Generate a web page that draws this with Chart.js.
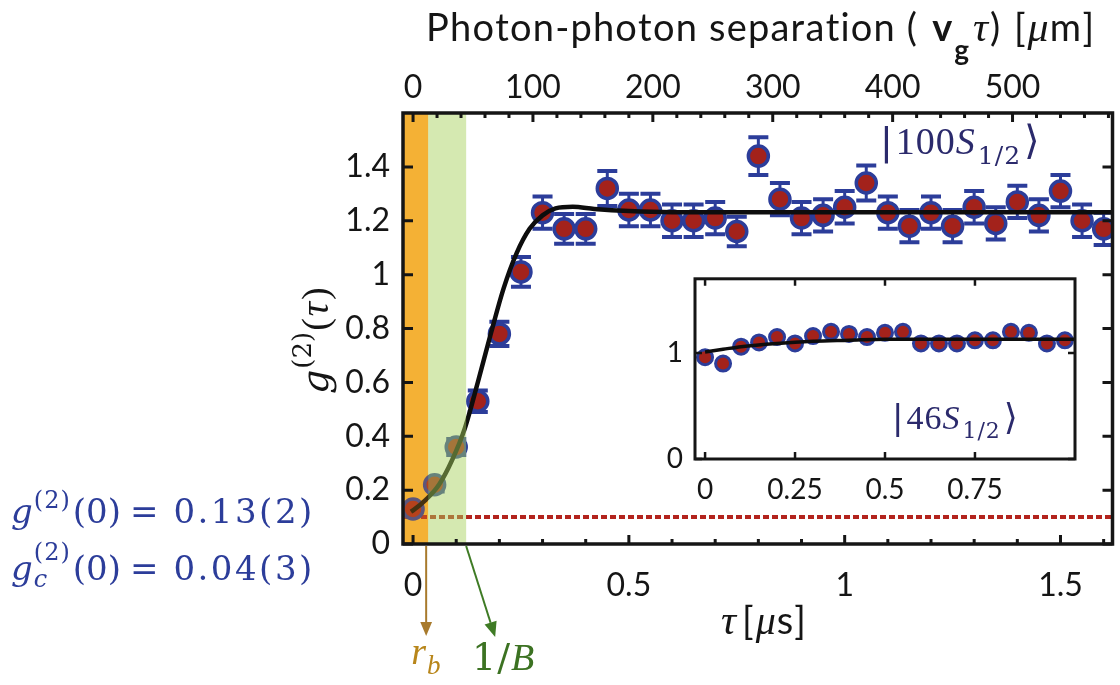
<!DOCTYPE html>
<html lang="en">
<head>
<meta charset="UTF-8">
<title>g2(tau) – photon correlation</title>
<script src="https://cdn.jsdelivr.net/npm/chart.js"></script>
<style>
  html, body { margin: 0; padding: 0; background: #fff; }
  #wrap { position: relative; width: 1120px; height: 685px; overflow: hidden; }
  #main { position: absolute; left: 0; top: 0; }
  #inset { position: absolute; left: 620px; top: 250px; }
</style>
</head>
<body>
<div id="wrap">
  <canvas id="main" width="1126" height="685"></canvas>
  <canvas id="inset" width="470" height="270"></canvas>
</div>

<script>
// ---- main panel, |100S1/2> ----
const tauMain = [0.00, 0.05, 0.10, 0.15, 0.20, 0.25, 0.30, 0.35, 0.40, 0.45, 0.50,
                 0.55, 0.60, 0.65, 0.70, 0.75, 0.80, 0.85, 0.90, 0.95, 1.00, 1.05,
                 1.10, 1.15, 1.20, 1.25, 1.30, 1.35, 1.40, 1.45, 1.50, 1.55, 1.60];
const g2Main = [0.13, 0.22, 0.36, 0.53, 0.78, 1.01, 1.23, 1.17, 1.17, 1.32, 1.24,
                1.24, 1.20, 1.20, 1.21, 1.16, 1.44, 1.28, 1.21, 1.22, 1.25, 1.34,
                1.23, 1.18, 1.23, 1.18, 1.25, 1.19, 1.27, 1.22, 1.31, 1.20, 1.17];
const errMain = [0.02, 0.025, 0.03, 0.04, 0.045, 0.055, 0.06, 0.055, 0.055, 0.065, 0.06,
                 0.06, 0.06, 0.06, 0.06, 0.055, 0.07, 0.06, 0.06, 0.06, 0.06, 0.065,
                 0.06, 0.06, 0.06, 0.06, 0.06, 0.06, 0.06, 0.06, 0.06, 0.06, 0.06];
const fitTauMain = [-0.005, 0.00, 0.03, 0.06, 0.09, 0.12, 0.15, 0.18, 0.21, 0.24, 0.27,
                    0.30, 0.33, 0.37, 0.42, 0.50, 0.60, 0.80, 1.00, 1.30, 1.63];
const fitGMain = [0.12, 0.125, 0.165, 0.22, 0.31, 0.43, 0.60, 0.78, 0.95, 1.08, 1.17,
                  1.22, 1.246, 1.252, 1.244, 1.236, 1.232, 1.232, 1.232, 1.232, 1.232];
const classicalLevel = 0.1;

const xMinMain = -0.0233, xMaxMain = 1.6205;
const xTicksMain = [0, 0.1, 0.2, 0.3, 0.4, 0.5, 0.6, 0.7, 0.8, 0.9, 1, 1.1, 1.2, 1.3, 1.4, 1.5, 1.6];
const xLabelsMain = [0, 0.5, 1, 1.5];
const yTicksMain = [0, 0.2, 0.4, 0.6, 0.8, 1, 1.2, 1.4];
const vgUm = 360; // group velocity, um per us
const sepTicks = [0, 20, 40, 60, 80, 100, 120, 140, 160, 180, 200, 220, 240, 260, 280, 300,
                  320, 340, 360, 380, 400, 420, 440, 460, 480, 500, 520, 540, 560, 580];
const sepLabels = [0, 100, 200, 300, 400, 500];

// blockade radius and inverse bandwidth regions (us)
const rbTau = 0.035;
const invBTau = 0.123;

// ---- inset, |46S1/2> ----
const tauInset = [0.00, 0.05, 0.10, 0.15, 0.20, 0.25, 0.30, 0.35, 0.40, 0.45, 0.50,
                  0.55, 0.60, 0.65, 0.70, 0.75, 0.80, 0.85, 0.90, 0.95, 1.00];
const g2Inset = [0.96, 0.90, 1.06, 1.10, 1.15, 1.09, 1.16, 1.20, 1.18, 1.15, 1.19,
                 1.20, 1.09, 1.09, 1.09, 1.12, 1.12, 1.20, 1.19, 1.09, 1.12];
const fitTauInset = [0, 0.05, 0.10, 0.20, 0.30, 0.40, 0.50, 0.70, 1.03];
const fitGInset = [1.01, 1.035, 1.06, 1.09, 1.11, 1.12, 1.13, 1.13, 1.13];
const xTicksInset = [0, 0.25, 0.5, 0.75];
const yTicksInset = [0, 1];

const SANS = "Lato, 'Open Sans', sans-serif";
const SERIF = "'Liberation Serif', 'DejaVu Serif', serif";
const MATH = "'DejaVu Serif', serif";
const KET = "'DejaVu Sans', serif";
const RED = '#a3221b', BLUE = '#2c3d9a', NAVY = '#2b2a6c', INK = '#151515';

Chart.defaults.font.family = SANS;

const pts = (xs, ys) => xs.map((x, i) => ({ x, y: ys[i] }));
const fmt = v => String(+v.toFixed(2));

// draw text pieces one glyph at a time (lets math-like labels get some spacing)
function textRuns(ctx, x, y, runs) {
  let cx = x, prevStart = x, prevEnd = x;
  runs.forEach(r => {
    const start = r.stack ? prevStart : cx;
    let px = start;
    ctx.font = r.f;
    if (r.c) ctx.fillStyle = r.c;
    for (const ch of r.t) {
      ctx.fillText(ch, px, y + (r.dy || 0));
      px += ctx.measureText(ch).width + (r.ls || 0);
    }
    const end = r.stack ? Math.max(px, prevEnd) : px;
    prevStart = start; prevEnd = end;
    cx = end + (r.gap || 0);
  });
  return cx;
}

function arrow(ctx, x0, y0, x1, y1, color, w, head) {
  const a = Math.atan2(y1 - y0, x1 - x0), c = Math.cos(a), s = Math.sin(a);
  ctx.strokeStyle = color; ctx.fillStyle = color; ctx.lineWidth = w;
  ctx.beginPath(); ctx.moveTo(x0, y0); ctx.lineTo(x1 - head * c, y1 - head * s); ctx.stroke();
  ctx.beginPath();
  ctx.moveTo(x1, y1);
  ctx.lineTo(x1 - head * c + head * 0.42 * s, y1 - head * s - head * 0.42 * c);
  ctx.lineTo(x1 - head * c - head * 0.42 * s, y1 - head * s + head * 0.42 * c);
  ctx.closePath(); ctx.fill();
}

// error bars under the markers
function errorBars(dsIndex, errs, capHalf, w) {
  return {
    id: 'errbars' + dsIndex,
    beforeDatasetsDraw(chart) {
      const { ctx } = chart, xs = chart.scales.x, ys = chart.scales.y;
      const data = chart.data.datasets[dsIndex].data;
      ctx.save();
      ctx.strokeStyle = BLUE;
      data.forEach((p, i) => {
        const x = xs.getPixelForValue(p.x);
        const y0 = ys.getPixelForValue(p.y + errs[i]);
        const y1 = ys.getPixelForValue(p.y - errs[i]);
        ctx.lineWidth = w;
        ctx.beginPath(); ctx.moveTo(x, y0); ctx.lineTo(x, y1); ctx.stroke();
        ctx.lineWidth = w + 1;
        ctx.beginPath();
        ctx.moveTo(x - capHalf, y0); ctx.lineTo(x + capHalf, y0);
        ctx.moveTo(x - capHalf, y1); ctx.lineTo(x + capHalf, y1);
        ctx.stroke();
      });
      ctx.restore();
    }
  };
}

// shaded tau ranges; "over" ones are laid translucently on top of the data
function fillBands(chart, bands, over) {
  const { ctx, chartArea: a } = chart, xs = chart.scales.x;
  bands.filter(b => !!b.over === over).forEach(b => {
    const x0 = b.from === null ? a.left : xs.getPixelForValue(b.from);
    const x1 = xs.getPixelForValue(b.to);
    ctx.fillStyle = b.color;
    ctx.fillRect(x0, a.top, x1 - x0, a.bottom - a.top);
  });
}

// box frame with inward ticks
function frame(cfg) {
  const bands = cfg.bands || [];
  return {
    id: 'frame',
    beforeDatasetsDraw(chart) {
      const { ctx, chartArea: a } = chart;
      ctx.save();
      if (cfg.fill) {
        ctx.fillStyle = cfg.fill;
        ctx.fillRect(a.left, a.top, a.right - a.left, a.bottom - a.top);
      }
      fillBands(chart, bands, false);
      ctx.restore();
    },
    afterDatasetsDraw(chart) {
      const { ctx, chartArea: a } = chart;
      ctx.save();
      fillBands(chart, bands, true);
      ctx.strokeStyle = INK;
      ctx.lineWidth = cfg.tickWidth;
      ctx.beginPath();
      cfg.ticks.forEach(t => {
        const s = chart.scales[t.scale];
        s.ticks.forEach(tk => {
          const v = tk.value, q = v / t.majorEvery;
          const len = Math.abs(q - Math.round(q)) < 1e-6 ? t.major : t.minor;
          t.edges.forEach(e => {
            if (e === 'top' || e === 'bottom') {
              const x = s.getPixelForValue(v), y = e === 'top' ? a.top : a.bottom;
              ctx.moveTo(x, y); ctx.lineTo(x, e === 'top' ? y + len : y - len);
            } else {
              const y = s.getPixelForValue(v), x = e === 'left' ? a.left : a.right;
              ctx.moveTo(x, y); ctx.lineTo(e === 'left' ? x + len : x - len, y);
            }
          });
        });
      });
      ctx.stroke();
      ctx.lineWidth = cfg.width;
      ctx.strokeRect(a.left, a.top, a.right - a.left, a.bottom - a.top);
      ctx.restore();
    }
  };
}

// labels, arrows and axis titles of the main panel
const mainText = {
  id: 'mainText',
  afterDraw(chart) {
    const { ctx, chartArea: a } = chart, xs = chart.scales.x;
    ctx.save();
    ctx.textBaseline = 'alphabetic';

    // top title
    ctx.fillStyle = INK;
    textRuns(ctx, 426, 41, [
      { t: 'Photon-photon separation (', f: `38px ${SANS}`, ls: 1.2, gap: 14 },
      { t: 'v', f: `bold 38px ${SANS}`, gap: 2 },
      { t: 'g', f: `bold 28px ${SANS}`, dy: 19, gap: 4 },
      { t: 'τ', f: `italic 42px ${SERIF}`, gap: 2 },
      { t: ') [', f: `38px ${SANS}`, ls: 2 },
      { t: 'μ', f: `italic 42px ${SERIF}`, gap: 1 },
      { t: 'm]', f: `38px ${SANS}`, ls: 1.5 }
    ]);

    // bottom title
    textRuns(ctx, 721, 634, [
      { t: 'τ', f: `italic 42px ${SERIF}`, gap: 6 },
      { t: '[', f: `38px ${SANS}`, gap: 2 },
      { t: 'μ', f: `italic 40px ${SERIF}`, gap: 1 },
      { t: 's]', f: `38px ${SANS}`, ls: 1 }
    ]);

    // y title, rotated
    ctx.save();
    ctx.translate(328, 394);
    ctx.rotate(-Math.PI / 2);
    textRuns(ctx, 0, 0, [
      { t: 'g', f: `italic 38px ${MATH}`, gap: 1 },
      { t: '(2)', f: `26px ${MATH}`, dy: -17, gap: 1 },
      { t: '(', f: `38px ${SERIF}`, gap: 2 },
      { t: 'τ', f: `italic 40px ${SERIF}`, gap: 2 },
      { t: ')', f: `38px ${SERIF}` }
    ]);
    ctx.restore();

    // g2(0) values on the left
    ctx.fillStyle = BLUE;
    textRuns(ctx, 11, 523, [
      { t: 'g', f: `italic 34px ${MATH}`, gap: 1 },
      { t: '(2)', f: `24px ${MATH}`, dy: -15, ls: 1, gap: 2 },
      { t: '(0)', f: `34px ${MATH}`, gap: 9 },
      { t: '=', f: `34px ${MATH}`, gap: 15 },
      { t: '0.13(2)', f: `34px ${MATH}`, ls: 2.5 }
    ]);
    textRuns(ctx, 11, 580, [
      { t: 'g', f: `italic 34px ${MATH}`, gap: 1 },
      { t: '(2)', f: `24px ${MATH}`, dy: -20, ls: 1 },
      { t: 'c', f: `italic 24px ${MATH}`, dy: 7, stack: true, gap: 2 },
      { t: '(0)', f: `34px ${MATH}`, gap: 9 },
      { t: '=', f: `34px ${MATH}`, gap: 15 },
      { t: '0.04(3)', f: `34px ${MATH}`, ls: 2.5 }
    ]);

    // state label
    ctx.fillStyle = NAVY;
    textRuns(ctx, 880, 154, [
      { t: '|', f: `38px ${KET}`, gap: 3 },
      { t: '100', f: `38px ${SERIF}`, ls: 1 },
      { t: 'S', f: `italic 38px ${SERIF}`, gap: 3 },
      { t: '1/2', f: `25px ${MATH}`, dy: 10, ls: 1, gap: 3 },
      { t: '⟩', f: `40px ${KET}` }
    ]);

    // r_b and 1/B markers below the axis
    const xr = xs.getPixelForValue(rbTau) - 2;
    const xb = xs.getPixelForValue(invBTau);
    arrow(ctx, xr, a.bottom + 2, xr, a.bottom + 92, '#a87a2c', 2, 14);
    arrow(ctx, xb, a.bottom + 2, xb + 29, a.bottom + 93, '#3f7b25', 2, 15);
    textRuns(ctx, xr - 15, 664, [
      { t: 'r', f: `italic 38px ${SERIF}`, c: '#b8861a', gap: 1 },
      { t: 'b', f: `italic 27px ${SERIF}`, dy: 10 }
    ]);
    textRuns(ctx, 472, 670, [
      { t: '1', f: `38px ${MATH}`, c: '#3c7222', gap: 1 },
      { t: '/', f: `38px ${MATH}`, gap: 1 },
      { t: 'B', f: `italic 38px ${SERIF}` }
    ]);
    ctx.restore();
  }
};

new Chart(document.getElementById('main'), {
  type: 'line',
  data: {
    datasets: [
      { data: pts(fitTauMain, fitGMain), borderColor: '#0d0d0d', borderWidth: 4.5,
        pointRadius: 0, cubicInterpolationMode: 'monotone', order: 0 },
      { data: pts(tauMain, g2Main), showLine: false, pointRadius: 10, borderWidth: 3.5,
        pointBackgroundColor: RED, pointBorderColor: BLUE, order: 1 },
      { data: [{ x: xMinMain, y: classicalLevel }, { x: xMaxMain, y: classicalLevel }],
        borderColor: '#b3241d', borderWidth: 4, borderDash: [6, 3], pointRadius: 0, order: 2 }
    ]
  },
  options: {
    responsive: false, animation: false,
    layout: { padding: { left: 0, right: 3, top: 0, bottom: 0 } },
    plugins: { legend: { display: false }, tooltip: { enabled: false } },
    scales: {
      x: {
        type: 'linear', position: 'bottom', min: xMinMain, max: xMaxMain,
        afterBuildTicks: s => { s.ticks = xTicksMain.map(v => ({ value: v })); },
        afterFit: s => { s.height = 141; },
        grid: { display: false, drawTicks: false }, border: { display: false },
        ticks: { autoSkip: false, maxRotation: 0, padding: 22, color: INK, font: { size: 32 },
                 callback: v => xLabelsMain.includes(v) ? fmt(v) : '' }
      },
      xTop: {
        type: 'linear', position: 'top', min: xMinMain * vgUm, max: xMaxMain * vgUm,
        afterBuildTicks: s => { s.ticks = sepTicks.map(v => ({ value: v })); },
        afterFit: s => { s.height = 113; },
        grid: { display: false, drawTicks: false }, border: { display: false },
        ticks: { autoSkip: false, maxRotation: 0, padding: 6, color: INK, font: { size: 32 },
                 callback: v => sepLabels.includes(v) ? String(v) : '' }
      },
      y: {
        type: 'linear', min: 0, max: 1.6,
        afterBuildTicks: s => { s.ticks = yTicksMain.map(v => ({ value: v })); },
        afterFit: s => { s.width = 403; },
        grid: { display: false, drawTicks: false }, border: { display: false },
        ticks: { autoSkip: false, padding: 13, color: INK, font: { size: 32 }, callback: v => fmt(v) }
      }
    }
  },
  plugins: [
    errorBars(1, errMain, 10, 3),
    frame({
      width: 3.5, tickWidth: 3,
      bands: [
        { from: null, to: rbTau, color: '#f6b63c' },
        { from: null, to: rbTau, color: 'rgba(240,165,30,0.25)', over: true },
        { from: rbTau, to: invBTau, color: 'rgba(168,208,92,0.48)', over: true }
      ],
      ticks: [
        { scale: 'x', edges: ['bottom'], majorEvery: 0.5, major: 9, minor: 5 },
        { scale: 'xTop', edges: ['top'], majorEvery: 100, major: 9, minor: 5 },
        { scale: 'y', edges: ['left', 'right'], majorEvery: 0.2, major: 10, minor: 10 }
      ]
    }),
    mainText
  ]
});

// ---- inset chart ----
const insetText = {
  id: 'insetText',
  afterDraw(chart) {
    const { ctx } = chart;
    ctx.save();
    ctx.fillStyle = NAVY;
    textRuns(ctx, 892 - 620, 429 - 250, [
      { t: '|', f: `34px ${KET}`, gap: 3 },
      { t: '46', f: `34px ${SERIF}`, ls: 1 },
      { t: 'S', f: `italic 34px ${SERIF}`, gap: 3 },
      { t: '1/2', f: `22px ${MATH}`, dy: 9, ls: 1, gap: 3 },
      { t: '⟩', f: `36px ${KET}` }
    ]);
    ctx.restore();
  }
};

new Chart(document.getElementById('inset'), {
  type: 'line',
  data: {
    datasets: [
      { data: pts(fitTauInset, fitGInset), borderColor: '#0d0d0d', borderWidth: 3.5,
        pointRadius: 0, cubicInterpolationMode: 'monotone', order: 0 },
      { data: pts(tauInset, g2Inset), showLine: false, pointRadius: 7.5, borderWidth: 3,
        pointBackgroundColor: RED, pointBorderColor: BLUE, order: 1 }
    ]
  },
  options: {
    responsive: false, animation: false,
    layout: { padding: { left: 0, right: 15, top: 15, bottom: 0 } },
    plugins: { legend: { display: false }, tooltip: { enabled: false } },
    scales: {
      x: {
        type: 'linear', min: -0.028, max: 1.028,
        afterBuildTicks: s => { s.ticks = xTicksInset.map(v => ({ value: v })); },
        afterFit: s => { s.height = 61; },
        grid: { display: false, drawTicks: false }, border: { display: false },
        ticks: { autoSkip: false, maxRotation: 0, padding: 14, color: INK, font: { size: 28 },
                 callback: v => fmt(v) }
      },
      y: {
        type: 'linear', min: 0, max: 1.7,
        afterBuildTicks: s => { s.ticks = yTicksInset.map(v => ({ value: v })); },
        afterFit: s => { s.width = 75; },
        grid: { display: false, drawTicks: false }, border: { display: false },
        ticks: { autoSkip: false, padding: 12, color: INK, font: { size: 28 }, callback: v => fmt(v) }
      }
    }
  },
  plugins: [
    frame({
      fill: '#ffffff', width: 3, tickWidth: 2.5,
      ticks: [
        { scale: 'x', edges: ['bottom', 'top'], majorEvery: 0.25, major: 7, minor: 7 },
        { scale: 'y', edges: ['left', 'right'], majorEvery: 1, major: 7, minor: 7 }
      ]
    }),
    insetText
  ]
});
</script>
</body>
</html>
